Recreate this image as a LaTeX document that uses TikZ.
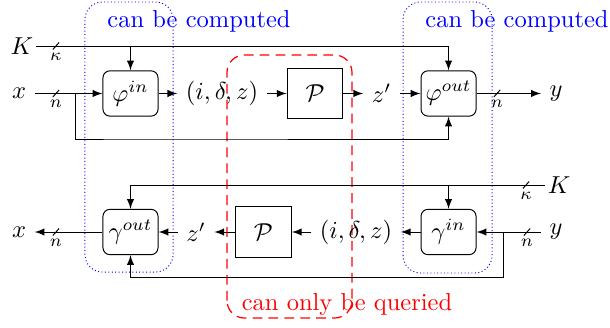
\documentclass[tikz,border=0pt]{standalone}
\usepackage{xcolor}
\usepackage{tikz}
\usepackage{amsmath}
\usetikzlibrary{arrows}
\definecolor{compblue}{HTML}{0000FF}
\definecolor{queryred}{HTML}{FF0000}
\tikzset{
  blk/.style={draw,rounded corners=0.1cm,minimum width=0.79cm,minimum height=0.65cm,inner sep=0pt},
  oracle/.style={draw,minimum width=0.8cm,minimum height=0.73cm,inner sep=0pt},
  sig/.style={-latex},
}
% slash on a line with its bit width below
\newcommand{\buswidth}[3]{%
  \draw ([shift={(-0.045,-0.05)}]#2) -- ([shift={(0.045,0.05)}]#2);
  \node[font=\scriptsize,inner sep=0pt] (#1) at ([yshift=-0.15cm]#2) {$#3$};}

\begin{document}
\begin{tikzpicture}[x=1cm,y=1cm]
  \useasboundingbox (0,0) rectangle (8.750,4.691);
  % regions
  \draw[compblue,densely dotted,rounded corners=0.25cm] (1.219,0.789) rectangle (2.482,4.662);
  \draw[compblue,densely dotted,rounded corners=0.25cm] (5.781,0.775) rectangle (7.058,4.662);
  \draw[queryred,line width=0.5pt,dash pattern=on 4pt off 2.5pt,rounded corners=0.25cm] (3.256,0.129) rectangle (5.049,3.902);
  \node[compblue] (compl) at (2.855,4.390) {can be computed};
  \node[compblue] (compr) at (7.416,4.390) {can be computed};
  \node[queryred] (query) at (4.978,0.330) {can only be queried};

  % upper row
  \node[inner sep=1pt] (Kt) at (0.316,4.031) {$K$};
  \node (xt) at (0.273,3.350) {$x$};
  \node[blk] (phiin) at (1.872,3.350) {$\varphi^{in}$};
  \node (idzt) at (3.185,3.350) {$(i,\delta,z)$};
  \node[oracle] (Pt) at (4.519,3.350) {$\mathcal{P}$};
  \node (zt) at (5.473,3.350) {$z'$};
  \node[blk] (phiout) at (6.434,3.350) {$\varphi^{out}$};
  \node (yt) at (7.976,3.350) {$y$};
  \coordinate (splitt) at (1.090,3.350);
  \coordinate (kbust) at (0.803,4.031);
  \coordinate (xbust) at (0.803,3.350);
  \coordinate (ybust) at (7.129,3.350);

  \draw[sig] (Kt.east) -| (phiout.north);
  \draw[sig] (phiin.north |- Kt) -- (phiin.north);
  \draw[sig] (xt) -- (phiin);
  \draw[sig] (splitt) |- (1.872,2.697) -| (phiout.south);
  \draw[sig] (phiin) -- (idzt);
  \draw[sig] (idzt) -- (Pt);
  \draw[sig] (Pt) -- (zt);
  \draw[sig] (zt) -- (phiout);
  \draw[sig] (phiout) -- (yt);
  \buswidth{kwt}{kbust}{\kappa}
  \buswidth{nxt}{xbust}{n}
  \buswidth{nyt}{ybust}{n}

  % lower row
  \node[inner sep=1pt] (Kb) at (8.019,2.037) {$K$};
  \node (yb) at (7.976,1.363) {$y$};
  \node[blk] (gin) at (6.434,1.363) {$\gamma^{in}$};
  \node (idzb) at (5.107,1.363) {$(i,\delta,z)$};
  \node[oracle] (Pb) at (3.780,1.363) {$\mathcal{P}$};
  \node (zb) at (2.812,1.363) {$z'$};
  \node[blk] (gout) at (1.872,1.363) {$\gamma^{out}$};
  \node (xb) at (0.273,1.363) {$x$};
  \coordinate (splitb) at (7.216,1.363);
  \coordinate (kbusb) at (7.545,2.037);
  \coordinate (ybusb) at (7.560,1.363);
  \coordinate (xbusb) at (0.803,1.363);

  \draw[sig] (Kb.west) -| (gout.north);
  \draw[sig] (gin.north |- Kb) -- (gin.north);
  \draw[sig] (yb) -- (gin);
  \draw[sig] (splitb) |- (6.434,0.710) -| (gout.south);
  \draw[sig] (gin) -- (idzb);
  \draw[sig] (idzb) -- (Pb);
  \draw[sig] (Pb) -- (zb);
  \draw[sig] (zb) -- (gout);
  \draw[sig] (gout) -- (xb);
  \buswidth{kwb}{kbusb}{\kappa}
  \buswidth{nyb}{ybusb}{n}
  \buswidth{nxb}{xbusb}{n}
\end{tikzpicture}
\end{document}
